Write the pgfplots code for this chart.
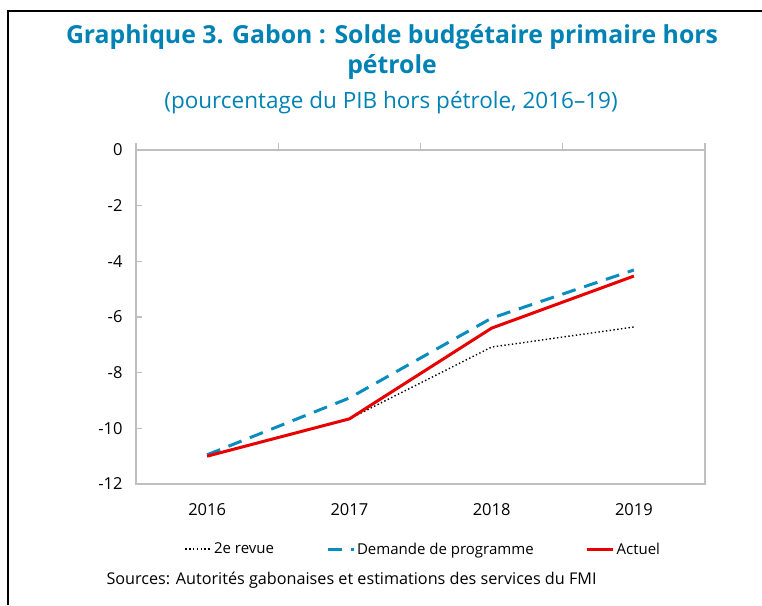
\documentclass[border=0pt]{standalone}
\usepackage{pgfplots}
\pgfplotsset{compat=1.18}
\usepackage{fontspec}
\setmainfont{Open Sans}
\definecolor{titleblue}{RGB}{0,130,180}
\definecolor{dashblue}{RGB}{10,140,190}
\definecolor{actred}{RGB}{232,0,0}
\definecolor{axgray}{RGB}{191,191,191}
\begin{document}
\begin{tikzpicture}[x=1pt,y=1pt]
\path[use as bounding box] (0,0) rectangle (762,605);
\draw[line width=2.4pt] (8,0) -- (8,594) -- (762,594);
\node[font=\fontsize{24.8}{30}\selectfont\bfseries, text=titleblue, align=center] at (392,553) {Graphique 3. Gabon : Solde budgétaire primaire hors\\pétrole};
\node[font=\fontsize{22.5}{26}\selectfont, text=titleblue] at (391,502) {(pourcentage du PIB hors pétrole, 2016–19)};
\begin{axis}[
  at={(136pt,121pt)}, anchor=south west,
  width=569pt, height=334pt, scale only axis,
  xmin=-0.5, xmax=3.5, ymin=-12, ymax=0,
  axis line style={draw=axgray, line width=1.3pt},
  xtick={0,1,2,3}, xticklabels={2016,2017,2018,2019},
  major x tick style={draw=none},
  minor xtick={-0.5,0.5,1.5,2.5,3.5},
  xtick pos=upper, xticklabel pos=lower,
  x tick style={draw=axgray, line width=1.2pt},
  minor tick length=7pt,
  xtick align=outside,
  ytick={-12,-10,-8,-6,-4,-2,0}, yticklabels={-12,-10,-8,-6,-4,-2,0},
  ytick pos=left, ytick align=inside,
  y tick style={draw=axgray, line width=1.2pt},
  major tick length=6pt,
  tick label style={font=\fontsize{16.5}{19}\selectfont, text=black},
  xticklabel style={yshift=-10pt},
  yticklabel style={xshift=-10pt},
  legend style={at={(0.505,-0.195)}, anchor=center, draw=none, fill=none,
    font=\fontsize{15}{18}\selectfont, legend columns=3,
    /tikz/every even column/.append style={column sep=50pt}},
  legend cell align=left,
  legend image code/.code={\draw[#1] (0pt,0pt) -- (26pt,0pt);},
  clip=false,
]
\addplot[black, line width=1.4pt, dash pattern=on 1.4pt off 2.4pt] coordinates {(0,-11.0) (1,-9.66) (2,-7.08) (3,-6.36)};
\addlegendentry{2e revue}
\addplot[dashblue, line width=3pt, dash pattern=on 14pt off 9pt] coordinates {(0,-10.95) (1,-8.91) (2,-6.04) (3,-4.31)};
\addlegendentry{Demande de programme}
\addplot[actred, line width=3pt] coordinates {(0,-11.0) (1,-9.66) (2,-6.4) (3,-4.53)};
\addlegendentry{Actuel}
\end{axis}
\node[font=\fontsize{16.2}{19}\selectfont, anchor=west] at (103,25) {Sources: Autorités gabonaises et estimations des services du FMI};
\end{tikzpicture}
\end{document}
